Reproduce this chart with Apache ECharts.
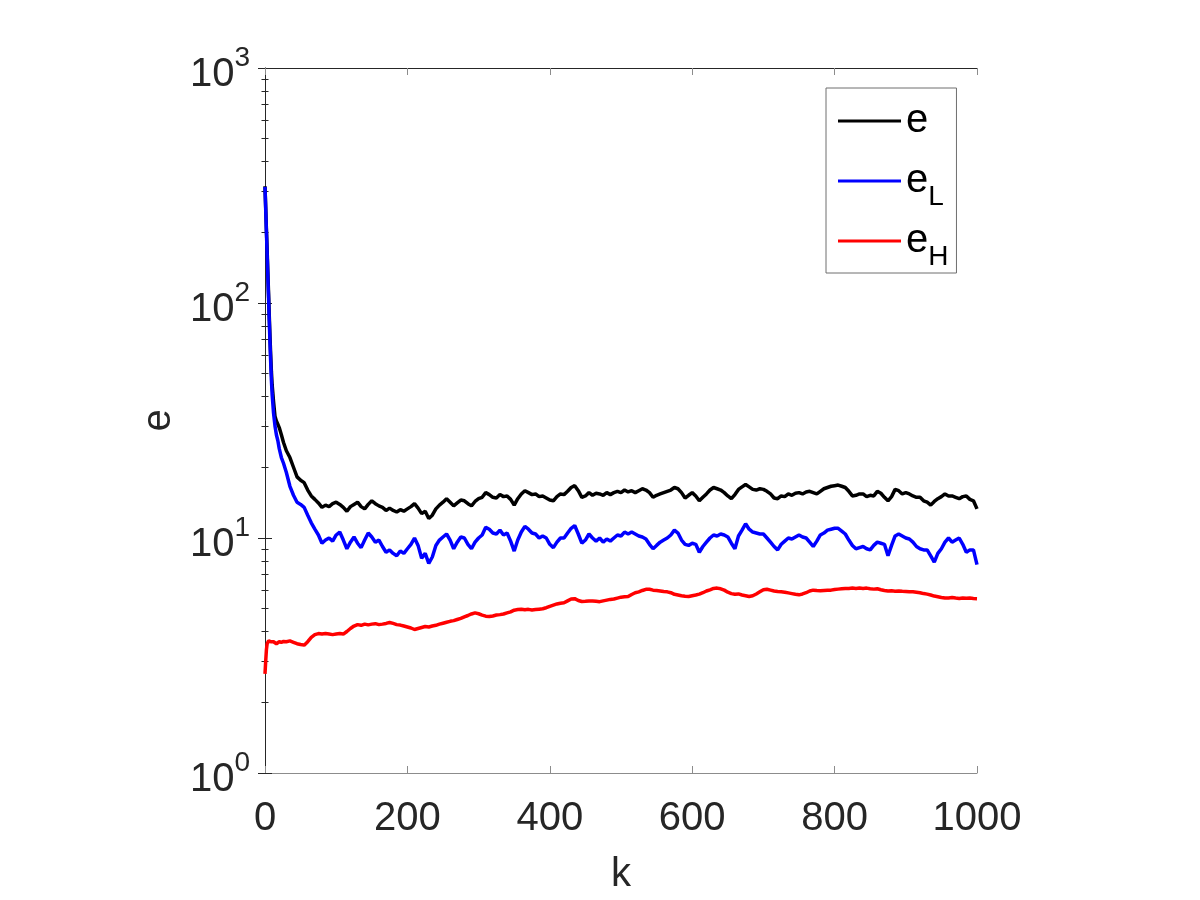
<!DOCTYPE html>
<html>
<head>
<meta charset="utf-8">
<script src="https://cdn.jsdelivr.net/npm/echarts@6/dist/echarts.min.js"></script>
<style>
html,body{margin:0;padding:0;background:#fff;}
#chart{width:1200px;height:900px;}
</style>
</head>
<body>
<div id="chart"></div>
<script>
// ---- data ----
const kEarly = [0,1,2,3,4,5,6,7,8,9,10,12,14,16,18,20,23,26,30,35,40,45,50,55,60,65,70,75,80];
const kLaterStart = 85, kLaterStep = 5, kLaterEnd = 1000;
const xTicks = [0,200,400,600,800,1000];
const yDecades = [1,10,100,1000];

const eVals = [
 314,255,205,168,135,110,88,72,60,51,
 45,38,33,31.5,30.5,29.5,27.5,25.5,23.5,22,
 20,18.2,17.6,17.2,16,15.1,14.6,14.1,13.5,
 // 85..510
 13.8,13.6,14.0,14.2,13.9,13.5,13.0,13.6,13.9,14.2,
 13.6,13.3,13.9,14.4,14.0,13.7,13.5,13.1,13.4,13.1,
 12.9,13.2,13.0,13.3,13.6,14.0,13.4,12.7,13.0,12.1,
 12.5,13.3,13.8,14.2,14.7,14.2,13.7,14.1,14.5,14.4,
 14.0,13.7,14.3,14.7,14.9,15.6,15.3,14.9,14.8,15.3,
 15.0,15.1,14.6,13.8,14.7,15.4,15.9,15.6,15.3,15.4,
 15.0,15.1,14.8,14.5,14.4,15.0,15.4,15.3,15.8,16.4,
 16.7,15.9,14.9,15.1,15.6,15.2,15.5,15.4,15.2,15.6,
 15.3,15.6,15.8,15.6,16.0,15.7,
 // 515..1000
 15.9,15.6,15.9,16.2,16.0,15.6,14.9,15.2,15.4,15.6,
 15.8,16.0,16.4,16.2,15.6,14.8,15.2,15.6,15.1,14.4,
 14.9,15.4,16.0,16.4,16.2,16.0,15.6,15.1,14.7,15.3,
 16.1,16.5,16.9,16.5,16.1,16.0,16.2,16.1,15.8,15.4,
 14.8,14.7,15.1,15.0,15.4,15.2,15.5,15.6,15.4,15.7,
 15.8,15.6,15.4,15.8,16.2,16.4,16.6,16.7,16.8,16.6,
 16.4,15.8,15.1,15.2,15.4,15.4,15.0,15.2,15.1,15.8,
 15.5,14.9,14.4,15.0,16.1,15.9,15.4,15.6,15.4,15.1,
 14.9,14.9,14.4,14.2,13.8,14.3,14.7,15.0,15.4,15.1,
 15.1,14.9,14.7,15.0,15.1,14.6,14.4,13.3
];

const eLVals = [
 312,250,200,162,130,105,84,68,56,47,
 41,34,30,27.5,26,24,22,20.8,19,16.6,
 15.2,14.2,13.9,13.5,12.5,11.6,10.9,10.3,9.5,
 // 85..510
 9.8,10.0,9.7,10.3,10.6,9.8,9.0,9.6,10.1,9.5,
 9.1,9.8,10.5,10.1,9.6,9.8,9.2,8.7,8.9,8.6,
 8.4,8.8,8.6,9.0,9.4,10.0,9.3,8.2,8.6,7.8,
 8.3,9.3,9.8,10.1,10.4,9.8,9.0,9.6,10.1,10.0,
 9.4,9.0,9.6,10.0,10.3,11.1,10.9,10.5,10.4,10.8,
 10.3,10.5,9.7,8.8,9.8,10.6,11.2,10.9,10.5,10.4,
 10.0,10.2,10.0,9.4,9.1,9.6,10.0,10.0,10.5,11.0,
 11.3,10.4,9.5,9.8,10.4,10.0,9.7,10.0,9.6,9.9,
 9.7,10.0,10.3,10.2,10.6,10.4,
 // 515..1000
 10.6,10.4,10.2,10.1,9.9,9.4,9.0,9.3,9.6,9.8,
 10.0,10.3,10.8,10.5,9.8,9.4,9.3,9.5,9.4,8.7,
 9.2,9.6,10.0,10.3,10.2,10.4,10.3,10.1,9.5,9.0,
 10.2,10.8,11.5,10.9,10.6,10.5,10.4,10.4,10.0,9.6,
 9.2,8.9,9.4,9.7,10.0,9.9,10.1,10.3,10.1,10.0,
 9.6,9.2,9.7,10.3,10.5,10.8,10.9,11.0,11.0,10.7,
 10.4,9.8,9.3,9.0,9.1,9.2,9.0,8.9,9.3,9.6,
 9.5,9.4,8.4,9.3,10.2,10.4,10.2,10.0,9.9,9.6,
 9.2,9.0,8.9,8.9,8.4,7.9,8.6,9.0,9.6,10.0,
 9.6,9.8,10.0,9.4,8.7,8.9,8.9,7.7
];

const eHVals = [
 2.64,3.0,3.35,3.55,3.62,3.65,3.6,3.65,3.62,3.58,
 3.6,3.62,3.58,3.55,3.6,3.62,3.6,3.63,3.62,3.65,
 3.6,3.55,3.52,3.5,3.62,3.78,3.88,3.92,3.9,
 // 85..510
 3.92,3.9,3.88,3.9,3.92,3.9,4.0,4.12,4.22,4.28,
 4.25,4.3,4.27,4.3,4.32,4.28,4.3,4.33,4.37,4.33,
 4.28,4.26,4.22,4.18,4.14,4.08,4.12,4.16,4.2,4.18,
 4.22,4.25,4.3,4.34,4.38,4.42,4.45,4.5,4.55,4.62,
 4.68,4.75,4.8,4.76,4.7,4.65,4.63,4.66,4.7,4.72,
 4.75,4.8,4.85,4.93,4.96,4.98,4.95,4.97,4.94,4.96,
 4.98,5.0,5.05,5.12,5.18,5.24,5.28,5.3,5.4,5.5,
 5.52,5.42,5.37,5.38,5.4,5.4,5.38,5.36,5.4,5.44,
 5.48,5.5,5.55,5.6,5.62,5.64,
 // 515..1000
 5.75,5.85,5.9,5.98,6.05,6.05,6.0,5.98,5.95,5.92,
 5.9,5.85,5.76,5.72,5.68,5.65,5.64,5.68,5.72,5.77,
 5.85,5.95,6.02,6.1,6.12,6.08,6.0,5.88,5.8,5.76,
 5.78,5.72,5.68,5.64,5.68,5.78,5.9,6.02,6.05,6.0,
 5.95,5.92,5.9,5.88,5.84,5.8,5.76,5.73,5.78,5.85,
 5.95,6.0,5.98,5.97,5.98,5.99,6.0,6.04,6.06,6.08,
 6.1,6.1,6.12,6.1,6.12,6.1,6.12,6.08,6.06,6.08,
 6.02,5.98,5.95,5.96,5.94,5.95,5.93,5.92,5.9,5.91,
 5.88,5.85,5.8,5.77,5.72,5.66,5.62,5.58,5.55,5.56,
 5.58,5.55,5.53,5.56,5.54,5.55,5.53,5.52
];

const seriesNames = ['e','e_L','e_H'];
const seriesColors = ['#000000','#0000ff','#ff0000'];

// ---- build ----
const kVals = kEarly.slice();
for (let x = kLaterStart; x <= kLaterEnd; x += kLaterStep) kVals.push(x);
const pairs = vals => kVals.map((x,i) => [x, vals[i]]);

const FONT = '"Liberation Sans", Arial, Helvetica, sans-serif';
const TXT = '#262626';
const LIGHT = '#8c8c8c';
const DARK = '#262626';

const yLabelRich = {
  b: {fontSize: 40, lineHeight: 62, fontFamily: FONT, color: TXT},
  s: {fontSize: 28, lineHeight: 28, verticalAlign: 'top', fontFamily: FONT, color: TXT}
};

const chart = echarts.init(document.getElementById('chart'), null, {renderer: 'canvas'});
chart.setOption({
  animation: false,
  backgroundColor: '#ffffff',
  grid: {left: 265, right: 223, top: 68, bottom: 120, containLabel: false},
  legend: {
    data: seriesNames,
    orient: 'vertical',
    left: 826, top: 88,
    padding: [3, 8, 2, 12],
    itemGap: 0,
    itemWidth: 63, itemHeight: 3,
    icon: 'rect',
    borderColor: '#6e6e6e', borderWidth: 1,
    backgroundColor: '#ffffff',
    formatter: n => n === 'e' ? '{a|e}' : '{b|e}{s|' + n.slice(2) + '}',
    textStyle: {
      fontFamily: FONT, color: '#000', fontSize: 40, lineHeight: 60,
      rich: {
        a: {fontSize: 40, fontFamily: FONT, color: '#000'},
        b: {fontSize: 40, fontFamily: FONT, color: '#000'},
        s: {fontSize: 28, lineHeight: 28, verticalAlign: 'bottom', fontFamily: FONT, color: '#000'}
      }
    }
  },
  xAxis: [
    {
      type: 'value', position: 'bottom', min: 0, max: 1000, interval: 200,
      name: 'k', nameLocation: 'middle', nameGap: 82,
      nameTextStyle: {fontSize: 40, fontFamily: FONT, color: TXT},
      axisLine: {show: true, lineStyle: {color: LIGHT, width: 1}},
      axisTick: {show: true, inside: true, length: 7, lineStyle: {color: LIGHT}},
      axisLabel: {show: true, fontSize: 40, fontFamily: FONT, color: TXT, margin: 26,
                  formatter: v => String(v)},
      splitLine: {show: false}
    },
    {
      type: 'value', position: 'top', min: 0, max: 1000, interval: 200,
      axisLine: {show: true, lineStyle: {color: DARK, width: 1}},
      axisTick: {show: true, inside: true, length: 7, lineStyle: {color: LIGHT}},
      axisLabel: {show: false},
      splitLine: {show: false}
    }
  ],
  yAxis: [
    {
      type: 'log', logBase: 10, position: 'left', min: 1, max: 1000, splitNumber: 3,
      name: 'e', nameLocation: 'middle', nameGap: 86,
      nameTextStyle: {fontSize: 40, fontFamily: FONT, color: TXT},
      axisLine: {show: true, lineStyle: {color: LIGHT, width: 1}},
      axisTick: {show: true, inside: true, length: 7, lineStyle: {color: DARK}},
      minorTick: {show: true, splitNumber: 9, length: 3.5, lineStyle: {color: DARK}},
      axisLabel: {
        show: true, margin: 15, padding: [14, 0, 0, 0],
        formatter: v => '{b|10}{s|' + Math.round(Math.log10(v)) + '}',
        rich: yLabelRich
      },
      splitLine: {show: false}
    },
    {
      type: 'log', logBase: 10, position: 'right', min: 1, max: 1000, splitNumber: 3,
      axisLine: {show: true, lineStyle: {color: DARK, width: 1}},
      axisTick: {show: true, inside: true, length: 7, lineStyle: {color: DARK}},
      minorTick: {show: true, splitNumber: 9, length: 3.5, lineStyle: {color: DARK}},
      axisLabel: {show: false},
      splitLine: {show: false}
    }
  ],
  series: [eVals, eLVals, eHVals].map((vals, i) => ({
    name: seriesNames[i],
    type: 'line',
    xAxisIndex: 0, yAxisIndex: 0,
    data: pairs(vals),
    showSymbol: false, symbol: 'none',
    lineStyle: {color: seriesColors[i], width: 3.5},
    itemStyle: {color: seriesColors[i]},
    z: 2 + i
  }))
});
</script>
</body>
</html>
